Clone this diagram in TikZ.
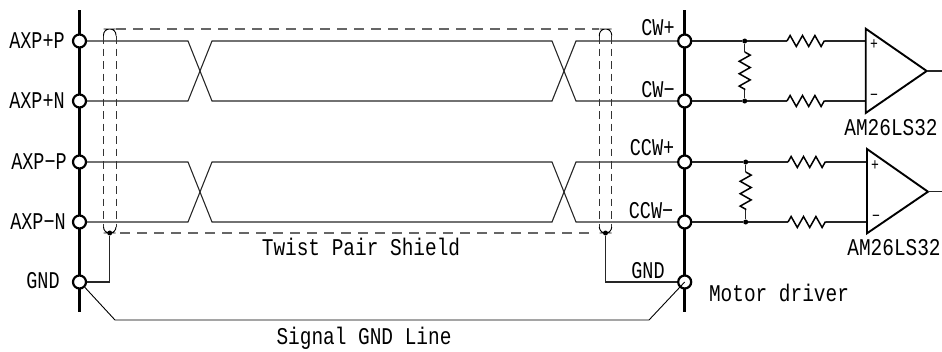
\documentclass[tikz,border=0pt]{standalone}
\usepackage{fontspec}
\usepackage{tikz}
\usetikzlibrary{decorations.pathmorphing}
\newfontfamily\lblfont[FakeStretch=0.77]{Liberation Mono}
\newfontfamily\widefont[FakeStretch=0.81]{Liberation Mono}
\tikzstyle{lbl} = [inner sep=0pt, font=\lblfont\fontsize{24}{26}\selectfont]
\tikzstyle{widelbl} = [inner sep=0pt, font=\widefont\fontsize{24}{26}\selectfont]
\tikzstyle{sign} = [inner sep=0pt, font=\lblfont\fontsize{17}{19}\selectfont]
\tikzstyle{busline} = [draw=black, line width=2.6pt]
\tikzstyle{pin} = [draw=black, fill=white, circle, line width=2.2pt, minimum size=13pt, inner sep=0pt]
\tikzstyle{wire} = [draw=black!85, line width=1.1pt]
\tikzstyle{fineline} = [draw=black, line width=0.9pt]
\tikzstyle{dot} = [fill=black, circle, minimum size=5pt, inner sep=0pt]
\tikzstyle{shieldline} = [draw=black!60, line width=1.3pt, dash pattern=on 10pt off 7pt]
\tikzstyle{shieldloop} = [draw=black!80, line width=1pt, dash pattern=on 7.5pt off 5pt]
\tikzstyle{res} = [draw=black, line width=1.5pt, decorate, decoration={zigzag, segment length=12.4pt, amplitude=5.5pt}]
\tikzstyle{amp} = [draw=black, line width=1.9pt, line join=miter]

\begin{document}
\begin{tikzpicture}[x=1pt, y=-1pt]
    \useasboundingbox (0,0) rectangle (942,351);
    \coordinate (ltop) at (79.5,10);
    \coordinate (lend) at (79.5,312);
    \coordinate (rtop) at (684.7,10);
    \coordinate (rend) at (684.7,312);
    \draw[busline] (ltop) -- (lend);
    \draw[busline] (rtop) -- (rend);

    % twisted pairs
    \coordinate (xa1) at (188,41);  \coordinate (xa2) at (212,41);
    \coordinate (xa3) at (552,41);  \coordinate (xa4) at (576,41);
    \coordinate (xb1) at (188,101); \coordinate (xb2) at (212,101);
    \coordinate (xb3) at (552,101); \coordinate (xb4) at (576,101);
    \coordinate (xc1) at (188,162); \coordinate (xc2) at (212,162);
    \coordinate (xc3) at (552,162); \coordinate (xc4) at (576,162);
    \coordinate (xd1) at (188,222); \coordinate (xd2) at (212,222);
    \coordinate (xd3) at (552,222); \coordinate (xd4) at (576,222);

    \node[pin] (axppp) at (79.5,41) {};
    \node[pin] (axppn) at (79.5,101) {};
    \node[pin] (axpmp) at (79.5,162) {};
    \node[pin] (axpmn) at (79.5,222) {};
    \node[pin] (gndl) at (79.5,282) {};
    \node[pin] (cwp) at (684.7,41) {};
    \node[pin] (cwm) at (684.7,101) {};
    \node[pin] (ccwp) at (684.7,162) {};
    \node[pin] (ccwm) at (684.7,222) {};
    \node[pin] (gndr) at (684.7,282) {};

    \draw[wire] (axppp) -- (xa1) -- (xb2) -- (xb3) -- (xa4) -- (cwp);
    \draw[wire] (axppn) -- (xb1) -- (xa2) -- (xa3) -- (xb4) -- (cwm);
    \draw[wire] (axpmp) -- (xc1) -- (xd2) -- (xd3) -- (xc4) -- (ccwp);
    \draw[wire] (axpmn) -- (xd1) -- (xc2) -- (xc3) -- (xd4) -- (ccwm);

    % shield
    \draw[shieldline] (116,29) -- (599,29);
    \draw[shieldline] (120,233) -- (595,233);
    \draw[shieldloop] (103.5,36) -- (103.5,227);
    \draw[shieldloop] (116,36) -- (116,227);
    \draw[shieldloop] (599.3,36) -- (599.3,227);
    \draw[shieldloop] (611.7,36) -- (611.7,227);
    \draw[fineline, rounded corners=6pt] (103.5,36) |- (109.7,29) -| (116,36);
    \draw[fineline, rounded corners=6pt] (599.3,36) |- (605.5,29) -| (611.7,36);
    \draw[fineline, rounded corners=6pt] (103.5,227) |- (109.7,233) -| (116,227);
    \draw[fineline, rounded corners=6pt] (599.3,227) |- (605.5,233) -| (611.7,227);
    \node[dot] (shl) at (109.7,233) {};
    \node[dot] (shr) at (605.5,233) {};

    % ground
    \coordinate (gl1) at (115,320);
    \coordinate (gl2) at (649,320);
    \draw[wire] (gndl) -| (shl);
    \draw[wire] (gndr) -| (shr);
    \draw[fineline] (gndl.south east) -- (gl1) -- (gl2) -- (gndr.center);

    % receiver 1
    \node[dot] (d1) at (744.7,41) {};
    \node[dot] (d2) at (744.7,101) {};
    \coordinate (r1a) at (787,41);  \coordinate (r1b) at (825,41);
    \coordinate (r2a) at (787,101); \coordinate (r2b) at (825,101);
    \coordinate (r3a) at (744.7,52); \coordinate (r3b) at (744.7,90);
    \coordinate (a1p) at (865.7,41); \coordinate (a1m) at (865.7,101);
    \coordinate (a1t) at (865.7,28.7); \coordinate (a1b) at (865.7,113);
    \coordinate (a1o) at (926.7,71); \coordinate (o1) at (942,71);
    \draw[wire] (cwp) -- (d1) -- (r1a);
    \draw[wire] (r1b) -- (a1p);
    \draw[wire] (cwm) -- (d2) -- (r2a);
    \draw[wire] (r2b) -- (a1m);
    \draw[wire] (d1) -- (r3a);
    \draw[wire] (r3b) -- (d2);
    \draw[res] (r1a) -- (r1b);
    \draw[res] (r2a) -- (r2b);
    \draw[res] (r3a) -- (r3b);
    \draw[amp] (a1t) -- (a1o) -- (a1b) -- cycle;
    \draw[wire] (a1o) -- (o1);

    % receiver 2
    \node[dot] (d3) at (745.7,162) {};
    \node[dot] (d4) at (745.7,222) {};
    \coordinate (r4a) at (788,162);  \coordinate (r4b) at (826,162);
    \coordinate (r5a) at (788,222);  \coordinate (r5b) at (826,222);
    \coordinate (r6a) at (745.7,172); \coordinate (r6b) at (745.7,210);
    \coordinate (a2p) at (867,162); \coordinate (a2m) at (867,222);
    \coordinate (a2t) at (867,149); \coordinate (a2b) at (867,233.3);
    \coordinate (a2o) at (928,191.7); \coordinate (o2) at (942,191.7);
    \draw[wire] (ccwp) -- (d3) -- (r4a);
    \draw[wire] (r4b) -- (a2p);
    \draw[wire] (ccwm) -- (d4) -- (r5a);
    \draw[wire] (r5b) -- (a2m);
    \draw[wire] (d3) -- (r6a);
    \draw[wire] (r6b) -- (d4);
    \draw[res] (r4a) -- (r4b);
    \draw[res] (r5a) -- (r5b);
    \draw[res] (r6a) -- (r6b);
    \draw[amp] (a2t) -- (a2o) -- (a2b) -- cycle;
    \draw[wire] (a2o) -- (o2);

    \node[sign] (s1) at (874,45) {+};
    \node[sign] (s2) at (874,97) {−};
    \node[sign] (s3) at (875,166) {+};
    \node[sign] (s4) at (876,218) {−};

    \node[lbl] (taxppp) at (37,41) {AXP+P};
    \node[lbl] (taxppn) at (37,101) {AXP+N};
    \node[lbl] (taxpmp) at (39,162) {AXP−P};
    \node[lbl] (taxpmn) at (38,222) {AXP−N};
    \node[lbl] (tgndl) at (43,281) {GND};
    \node[lbl] (tcwp) at (658,28) {CW+};
    \node[lbl] (tcwm) at (658,90) {CW−};
    \node[lbl] (tccwp) at (652,148) {CCW+};
    \node[lbl] (tccwm) at (651,211) {CCW−};
    \node[lbl] (tgndr) at (648,271) {GND};
    \node[widelbl] (tam1) at (891,128) {AM26LS32};
    \node[widelbl] (tam2) at (894,248) {AM26LS32};
    \node[widelbl] (tdrv) at (779,293) {Motor driver};
    \node[widelbl] (tshield) at (361,247) {Twist Pair Shield};
    \node[widelbl] (tsig) at (364,338) {Signal GND Line};
\end{tikzpicture}
\end{document}
